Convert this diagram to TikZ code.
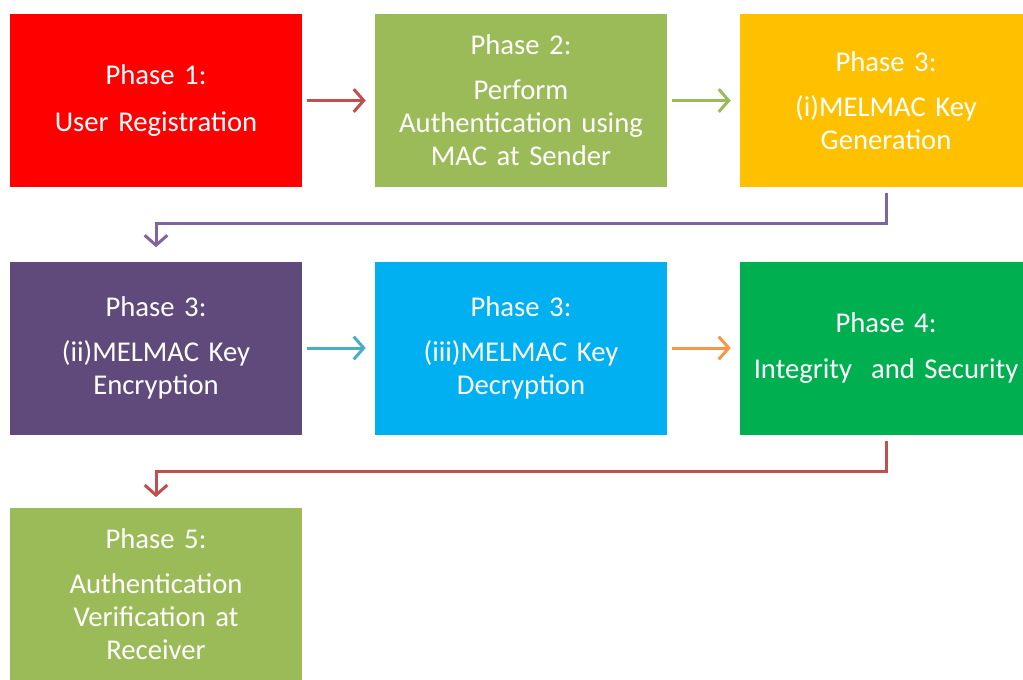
\documentclass[tikz,border=0pt]{standalone}
\usepackage{fontspec}
\setmainfont{Carlito}[WordSpace=0.7]
\usetikzlibrary{arrows.meta}
\definecolor{pred}{HTML}{FF0000}
\definecolor{polive}{HTML}{9BBB59}
\definecolor{pgold}{HTML}{FFC000}
\definecolor{ppurple}{HTML}{604A7B}
\definecolor{pcyan}{HTML}{00B0F0}
\definecolor{pgreen}{HTML}{00B050}
\definecolor{ared}{HTML}{C0504D}
\definecolor{apurple}{HTML}{8064A2}
\definecolor{ablue}{HTML}{4BACC6}
\definecolor{aorange}{HTML}{F79646}

\begin{document}
\begin{tikzpicture}[x=0.75pt, y=-0.75pt,
  phase/.style={rectangle, minimum width=219pt, minimum height=129.75pt, text width=214pt,
    inner sep=0pt, align=center, text=white, font=\fontsize{21.5}{24.75}\selectfont},
  link/.style={line width=2.25pt, -{Straight Barb[length=7.5pt, width=17pt]}, shorten <=3.75pt, shorten >=6.75pt}]
\useasboundingbox (0,0) rectangle (1023,679);
\node[phase, fill=pred] (p1) at (156,100.5) {Phase 1:\\[10pt]User Registration};
\node[phase, fill=polive] (p2) at (521,100.5) {Phase 2:\\[9pt]Perform\\Authentication using\\MAC at Sender};
\node[phase, fill=pgold] (p3i) at (886,100.5) {Phase 3:\\[9pt](i)MELMAC Key\\Generation};
\node[phase, fill=ppurple] (p3ii) at (156,348) {Phase 3:\\[9pt](ii)MELMAC Key\\Encryption};
\node[phase, fill=pcyan] (p3iii) at (521,348) {Phase 3:\\[9pt](iii)MELMAC Key\\Decryption};
\node[phase, fill=pgreen] (p4) at (886,348) {Phase 4:\\[10pt]Integrity\ \ and Security};
\node[phase, fill=polive] (p5) at (156,594.5) {Phase 5:\\[9pt]Authentication\\Verification at\\Receiver};
\draw[link, ared] (p1) -- (p2);
\draw[link, polive] (p2) -- (p3i);
\draw[link, apurple, shorten <=4.5pt, shorten >=10.5pt] (p3i.south) -- ++(0,36) -| (p3ii.north);
\draw[link, ablue] (p3ii) -- (p3iii);
\draw[link, aorange] (p3iii) -- (p4);
\draw[link, ared, shorten <=4.5pt, shorten >=8pt] (p4.south) -- ++(0,37) -| (p5.north);
\end{tikzpicture}
\end{document}
